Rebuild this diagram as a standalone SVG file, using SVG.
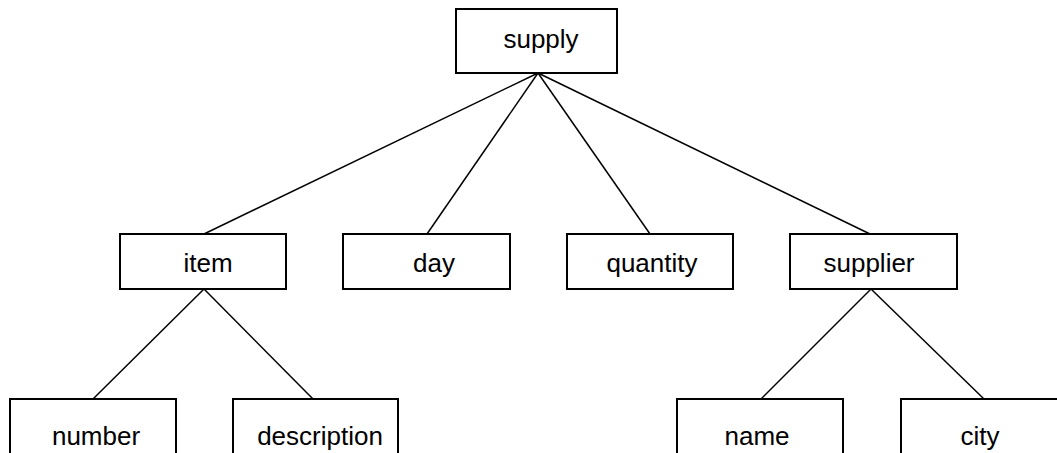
<svg xmlns="http://www.w3.org/2000/svg" width="1057" height="453" viewBox="0 0 1057 453">
<style>
.box{fill:#fff;stroke:#000;stroke-width:2}
.lbl{font-family:"Liberation Sans",Arial,sans-serif;font-size:26px;fill:#000;text-anchor:middle}
.edge{stroke:#000;stroke-width:1.5;fill:none}
</style>
<rect width="1057" height="453" fill="#fff"/>
<g id="connectors">
<line class="edge" x1="538" y1="73" x2="204" y2="234"/>
<line class="edge" x1="538" y1="73" x2="427" y2="234"/>
<line class="edge" x1="538" y1="73" x2="650" y2="234"/>
<line class="edge" x1="538" y1="73" x2="870" y2="234"/>
<line class="edge" x1="204" y1="289" x2="93" y2="399"/>
<line class="edge" x1="204" y1="289" x2="313" y2="399"/>
<line class="edge" x1="871" y1="289" x2="761" y2="399"/>
<line class="edge" x1="871" y1="289" x2="984" y2="399"/>
</g>
<g id="supply"><rect class="box" x="456" y="9" width="161" height="64"/><text class="lbl" x="541" y="48">supply</text></g>
<g id="item"><rect class="box" x="120" y="234" width="166" height="55"/><text class="lbl" x="208" y="272">item</text></g>
<g id="day"><rect class="box" x="343" y="234" width="167" height="55"/><text class="lbl" x="434" y="272">day</text></g>
<g id="quantity"><rect class="box" x="567" y="234" width="166" height="55"/><text class="lbl" x="652" y="272">quantity</text></g>
<g id="supplier"><rect class="box" x="790" y="234" width="167" height="55"/><text class="lbl" x="869" y="272">supplier</text></g>
<g id="number"><rect class="box" x="10" y="399" width="166" height="56"/><text class="lbl" x="96" y="445">number</text></g>
<g id="description"><rect class="box" x="233" y="399" width="165" height="56"/><text class="lbl" x="320" y="445">description</text></g>
<g id="name"><rect class="box" x="677" y="399" width="166" height="56"/><text class="lbl" x="757" y="445">name</text></g>
<g id="city"><rect class="box" x="901" y="399" width="166" height="56"/><text class="lbl" x="980" y="445">city</text></g>
</svg>
